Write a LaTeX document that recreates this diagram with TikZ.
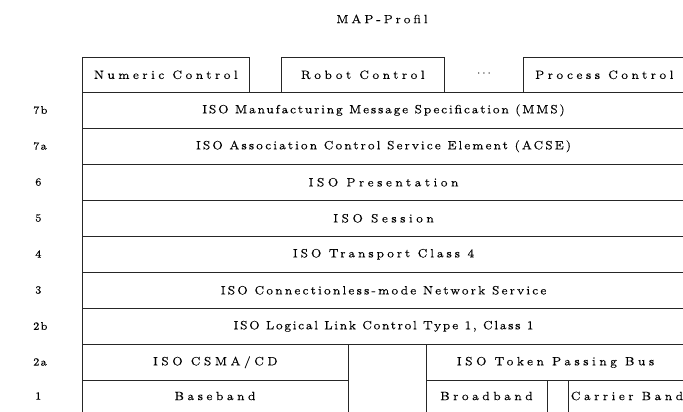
\documentclass[tikz,border=0pt]{standalone}
\usepackage{fontspec}
\newfontfamily\lsp{lmroman7-regular}[Extension=.otf, LetterSpace=28, FakeBold=0.07]
\newfontfamily\lsA{lmroman7-regular}[Extension=.otf, LetterSpace=14, FakeBold=0.07]
\newfontfamily\lsB{lmroman7-regular}[Extension=.otf, LetterSpace=16, FakeBold=0.07]
\newfontfamily\lsC{lmroman7-regular}[Extension=.otf, LetterSpace=17, FakeBold=0.07]
\newfontfamily\lsD{lmroman7-regular}[Extension=.otf, LetterSpace=13, FakeBold=0.07]
\newfontfamily\lst{lmroman7-regular}[Extension=.otf, LetterSpace=23, FakeBold=0.07]
\newfontfamily\lsl{lmroman7-regular}[Extension=.otf, LetterSpace=10, FakeBold=0.07]
\newcommand{\lsfont}{\lsp\fontsize{12}{14}\selectfont}
\newcommand{\lsfonttitle}{\lst\fontsize{12}{14}\selectfont}
\newcommand{\lblfont}{\lsl\fontsize{11}{13}\selectfont}
\tikzset{
  cell/.style={draw=black!85, line width=0.6pt, inner sep=0pt, anchor=north west, font=\lsfont},
  lbl/.style={anchor=west, inner sep=0pt, font=\lblfont},
  txt/.style={inner sep=0pt, font=\lsfont},
}
\begin{document}
\begin{tikzpicture}[x=1pt,y=-1pt]
\useasboundingbox (0,0) rectangle (683,412);
\clip (0,0) rectangle (683,412);
\node[txt, font=\lsfonttitle] (title) at (382,19) {MAP-Profil};
% top applications
\node[cell, minimum width=167pt, minimum height=35pt] (nc) at (82,57) {Numeric Control};
\node[cell, minimum width=163pt, minimum height=35pt] (rc) at (281,57) {Robot Control};
\node[txt] (dots) at (484,74) {$\cdots$};
\node[cell, minimum width=162pt, minimum height=35pt] (pc) at (523,57) {Process Control};
% layers
\node[cell, font=\lsA\fontsize{12}{14}\selectfont, minimum width=602.5pt, minimum height=36pt] (l7b) at (82,92) {ISO Manufacturing Message Specification (MMS)};
\node[cell, font=\lsB\fontsize{12}{14}\selectfont, minimum width=602.5pt, minimum height=36pt] (l7a) at (82,128) {ISO Association Control Service Element (ACSE)};
\node[cell, minimum width=602.5pt, minimum height=36pt] (l6) at (82,164) {ISO Presentation};
\node[cell, minimum width=602.5pt, minimum height=36pt] (l5) at (82,200) {ISO Session};
\node[cell, font=\lst\fontsize{12}{14}\selectfont, minimum width=602.5pt, minimum height=36pt] (l4) at (82,236) {ISO Transport Class 4};
\node[cell, font=\lsC\fontsize{12}{14}\selectfont, minimum width=602.5pt, minimum height=36pt] (l3) at (82,272) {ISO Connectionless-mode Network Service};
\node[cell, font=\lsD\fontsize{12}{14}\selectfont, minimum width=602.5pt, minimum height=36pt] (l2b) at (82,308) {ISO Logical Link Control Type 1, Class 1};
\node[cell, minimum width=266pt, minimum height=36pt] (csma) at (82,344) {ISO CSMA/CD};
\node[cell, minimum width=258.5pt, minimum height=36pt] (token) at (426,344) {ISO Token Passing Bus};
\node[cell, minimum width=266pt, minimum height=40pt] (base) at (82,380) {};
\node[txt] (baset) at (215,396) {Baseband};
\node[cell, minimum width=121pt, minimum height=40pt] (broad) at (426,380) {};
\node[txt] (broadt) at (486.5,396) {Broadband};
\node[cell, minimum width=116.5pt, minimum height=40pt] (carrier) at (568,380) {};
\node[txt] (carriert) at (627,396) {Carrier Band};
% layer labels
\node[lbl] (n7b) at (33,110) {7b};
\node[lbl] (n7a) at (33,146) {7a};
\node[lbl] (n6) at (35,182) {6};
\node[lbl] (n5) at (35,218) {5};
\node[lbl] (n4) at (35,254) {4};
\node[lbl] (n3) at (35,290) {3};
\node[lbl] (n2b) at (33,326) {2b};
\node[lbl] (n2a) at (33,362) {2a};
\node[lbl] (n1) at (35,396) {1};
\end{tikzpicture}
\end{document}
